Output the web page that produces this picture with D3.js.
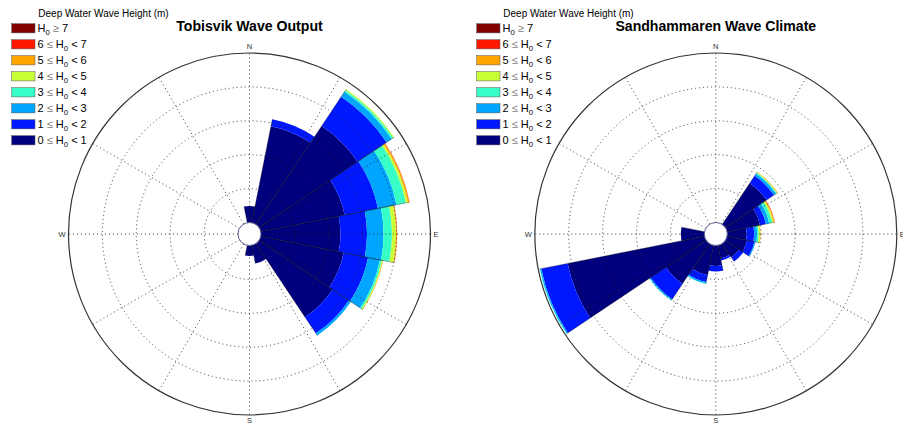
<!DOCTYPE html>
<html>
<head>
<meta charset="utf-8">
<script src="https://cdn.jsdelivr.net/npm/d3@7"></script>
<style>
  body { margin: 0; background: #fff; }
  svg { display: block; }
</style>
</head>
<body>
<svg id="chart" width="903" height="424"></svg>
<script>
// 16 compass sectors, 22.5 degrees each, clockwise from north
const directions = ["N","NNE","NE","ENE","E","ESE","SE","SSE","S","SSW","SW","WSW","W","WNW","NW","NNW"];
const compassLabels = ["N", "E", "S", "W"];

// Deep water wave height classes, from lowest to highest
const classKeys = ["h0_1", "h1_2", "h2_3", "h3_4", "h4_5", "h5_6", "h6_7", "h7"];
const classLow  = [0, 1, 2, 3, 4, 5, 6, 7];
const classColors = ["#00007f", "#0018ff", "#00a5ff", "#37ffc8", "#c8ff37", "#ffa500", "#ff1800", "#800000"];

// Tobisvik: occurrence (%) per direction for each height class
const tobisvik0_1 = [1.95, 11.62, 13.98, 10.09, 9.38, 9.97, 10.44, 2.18, 1.24, 0, 0, 0, 0, 0, 0, 0];
const tobisvik1_2 = [0, 0.83, 4.13, 4.01, 3.13, 2.95, 2.30, 0, 0, 0, 0, 0, 0, 0, 0, 0];
const tobisvik2_3 = [0, 0, 0.71, 2.24, 1.95, 1.42, 0.30, 0, 0, 0, 0, 0, 0, 0, 0, 0];
const tobisvik3_4 = [0, 0, 0.24, 1.12, 1.00, 0.23, 0, 0, 0, 0, 0, 0, 0, 0, 0, 0];
const tobisvik4_5 = [0, 0, 0.12, 0.24, 0.47, 0.10, 0, 0, 0, 0, 0, 0, 0, 0, 0, 0];
const tobisvik5_6 = [0, 0, 0, 0.18, 0.12, 0.06, 0, 0, 0, 0, 0, 0, 0, 0, 0, 0];
const tobisvik6_7 = [0, 0, 0, 0.03, 0.02, 0, 0, 0, 0, 0, 0, 0, 0, 0, 0, 0];
const tobisvik7   = [0, 0, 0, 0, 0, 0, 0, 0, 0, 0, 0, 0, 0, 0, 0, 0];

// Sandhammaren: occurrence (%) per direction for each height class
const sandham0_1 = [0, 0, 7.30, 4.94, 2.88, 3.02, 2.43, 1.99, 3.02, 4.50, 7.15, 20.58, 3.47, 0, 0, 0];
const sandham1_2 = [0, 0, 1.33, 0.89, 1.10, 1.11, 0.74, 0.30, 0.82, 1.03, 2.73, 3.98, 0, 0, 0, 0];
const sandham2_3 = [0, 0, 0.37, 0.51, 0.45, 0.15, 0, 0, 0, 0.22, 0.15, 0.19, 0, 0, 0, 0];
const sandham3_4 = [0, 0, 0.15, 0.45, 0.22, 0, 0, 0, 0, 0.07, 0.07, 0.07, 0, 0, 0, 0];
const sandham4_5 = [0, 0, 0.07, 0.22, 0.22, 0, 0, 0, 0, 0, 0, 0, 0, 0, 0, 0];
const sandham5_6 = [0, 0, 0.07, 0.15, 0.07, 0, 0, 0, 0, 0, 0, 0, 0, 0, 0, 0];
const sandham6_7 = [0, 0, 0, 0.04, 0, 0, 0, 0, 0, 0, 0, 0, 0, 0, 0, 0];
const sandham7   = [0, 0, 0, 0, 0, 0, 0, 0, 0, 0, 0, 0, 0, 0, 0, 0];

// Frequency circles (%) for each rose
const tobisvikRings = [4, 8, 12, 16, 20];
const sandhamRings  = [5, 10, 15, 20, 25];

const legendTitle = "Deep Water Wave Height (m)";

const FONT = '"Liberation Sans", Arial, Helvetica, sans-serif';
const HOLE = 11.5;
const RADIUS = 181;

const svg = d3.select("#chart");

function buildTable(cols) {
  return directions.map((dir, i) => {
    const row = { dir };
    classKeys.forEach((k, j) => { row[k] = cols[j][i]; });
    return row;
  });
}

function polar(r, a) {
  return [r * Math.sin(a), -r * Math.cos(a)];
}

function drawRose(cfg) {
  const g = svg.append("g").attr("transform", `translate(${cfg.cx},${cfg.cy})`);
  const rScale = d3.scaleLinear().domain([0, d3.max(cfg.rings)]).range([HOLE, RADIUS]);
  const step = 2 * Math.PI / directions.length;
  const angle = d3.scaleBand().domain(directions).range([-step / 2, 2 * Math.PI - step / 2]).padding(0);

  const table = buildTable(cfg.columns);
  const layers = d3.stack().keys(classKeys)(table);
  const arc = d3.arc();

  // stacked sectors
  layers.forEach((layer, li) => {
    g.append("g")
      .selectAll("path")
      .data(layer.filter(p => p[1] - p[0] > 0))
      .join("path")
      .attr("d", p => arc({
        innerRadius: rScale(p[0]),
        outerRadius: rScale(p[1]),
        startAngle: angle(p.data.dir),
        endAngle: angle(p.data.dir) + angle.bandwidth()
      }))
      .attr("fill", classColors[li]);
  });

  // sector side edges
  const top = layers[layers.length - 1];
  const edges = [];
  top.forEach(p => {
    if (p[1] <= 0) return;
    const a0 = angle(p.data.dir), a1 = a0 + angle.bandwidth();
    const rr = rScale(p[1]);
    edges.push([polar(HOLE, a0), polar(rr, a0)]);
    edges.push([polar(HOLE, a1), polar(rr, a1)]);
  });
  g.append("g").selectAll("line").data(edges).join("line")
    .attr("x1", d => d[0][0]).attr("y1", d => d[0][1])
    .attr("x2", d => d[1][0]).attr("y2", d => d[1][1])
    .attr("stroke", "#000").attr("stroke-opacity", 0.55).attr("stroke-width", 0.6);

  // dotted frequency circles
  g.append("g").selectAll("circle")
    .data(cfg.rings.slice(0, -1))
    .join("circle")
    .attr("r", v => rScale(v))
    .attr("fill", "none")
    .attr("stroke", "#222")
    .attr("stroke-width", 0.8)
    .attr("stroke-dasharray", "1.1,2.9");

  // dotted spokes every 30 degrees
  const spokes = d3.range(0, 360, 30).map(d => d * Math.PI / 180);
  g.append("g").selectAll("line").data(spokes).join("line")
    .attr("x1", a => polar(HOLE, a)[0]).attr("y1", a => polar(HOLE, a)[1])
    .attr("x2", a => polar(RADIUS, a)[0]).attr("y2", a => polar(RADIUS, a)[1])
    .attr("stroke", "#222")
    .attr("stroke-width", 0.8)
    .attr("stroke-dasharray", "1.1,2.9");

  // outer frame circle
  g.append("circle").attr("r", RADIUS)
    .attr("fill", "none").attr("stroke", "#333").attr("stroke-width", 1.2);

  // central hole
  g.append("circle").attr("r", HOLE)
    .attr("fill", "#fff").attr("stroke", "#4a4a86").attr("stroke-width", 0.9);

  // compass letters
  const lab = g.append("g").attr("font-family", FONT).attr("font-size", 7.5).attr("fill", "#333");
  lab.append("text").attr("x", 0).attr("y", -RADIUS - 4).attr("text-anchor", "middle").text(compassLabels[0]);
  lab.append("text").attr("x", RADIUS + 3).attr("y", 2.7).attr("text-anchor", "start").text(compassLabels[1]);
  lab.append("text").attr("x", 0).attr("y", RADIUS + 8.2).attr("text-anchor", "middle").text(compassLabels[2]);
  lab.append("text").attr("x", -RADIUS - 3).attr("y", 2.7).attr("text-anchor", "end").text(compassLabels[3]);

  // title
  svg.append("text")
    .attr("x", cfg.cx).attr("y", 30.5)
    .attr("text-anchor", "middle")
    .attr("font-family", FONT).attr("font-size", 14.1).attr("font-weight", "bold")
    .attr("fill", "#000")
    .text(cfg.title);

  drawLegend(cfg.legendX);
}

function drawLegend(x0) {
  const lg = svg.append("g").attr("font-family", FONT).attr("fill", "#000");
  lg.append("text").attr("x", x0 + 26.6).attr("y", 17).attr("font-size", 10).text(legendTitle);

  // highest class on top
  const order = d3.range(classKeys.length).reverse();
  order.forEach((ci, row) => {
    const yc = 28.3 + row * 16;
    lg.append("rect")
      .attr("x", x0).attr("y", yc - 4.6)
      .attr("width", 23.3).attr("height", 9.2)
      .attr("fill", classColors[ci])
      .attr("stroke", "#555").attr("stroke-width", 0.5);
    const t = lg.append("text").attr("x", x0 + 25.8).attr("y", yc + 3.9).attr("font-size", 11);
    const lo = classLow[ci];
    if (ci === classKeys.length - 1) {
      t.append("tspan").text("H");
      t.append("tspan").attr("dy", 2.8).attr("font-size", 7.8).text("0");
      t.append("tspan").attr("dy", -2.8).text(" ");
      t.append("tspan").attr("fill", "#777").text("≥");
      t.append("tspan").text(" " + lo);
    } else {
      t.append("tspan").text(lo + " ");
      t.append("tspan").attr("fill", "#777").text("≤");
      t.append("tspan").text(" H");
      t.append("tspan").attr("dy", 2.8).attr("font-size", 7.8).text("0");
      t.append("tspan").attr("dy", -2.8).text(" < " + (lo + 1));
    }
  });
}

drawRose({
  cx: 249.5, cy: 234, legendX: 11.7,
  title: "Tobisvik Wave Output",
  rings: tobisvikRings,
  columns: [tobisvik0_1, tobisvik1_2, tobisvik2_3, tobisvik3_4, tobisvik4_5, tobisvik5_6, tobisvik6_7, tobisvik7]
});

drawRose({
  cx: 715.8, cy: 234, legendX: 476.7,
  title: "Sandhammaren Wave Climate",
  rings: sandhamRings,
  columns: [sandham0_1, sandham1_2, sandham2_3, sandham3_4, sandham4_5, sandham5_6, sandham6_7, sandham7]
});
</script>
</body>
</html>
